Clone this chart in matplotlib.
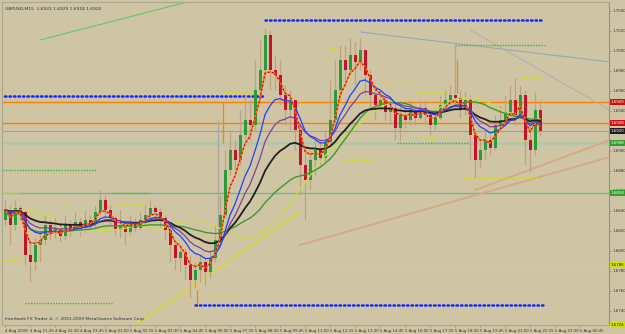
import matplotlib
matplotlib.use("Agg")
import matplotlib.pyplot as plt
import matplotlib.transforms as mtrans
import numpy as np
import pandas as pd

# candle data, GBPUSD M15 (open of each bar = previous close)
first_open = 1.6831
closes = [1.6841, 1.6826, 1.6843, 1.6839, 1.6796, 1.6789, 1.6806, 1.6811, 1.6826, 1.6819,
          1.6823, 1.6815, 1.6826, 1.6821, 1.6829, 1.6823, 1.6831, 1.6827, 1.6839, 1.6851,
          1.6841, 1.6833, 1.6821, 1.6826, 1.6819, 1.6829, 1.6823, 1.6831, 1.6836, 1.6843,
          1.6839, 1.6833, 1.6821, 1.6806, 1.6793, 1.6799, 1.6786, 1.6771, 1.6781, 1.6789,
          1.6779, 1.6793, 1.6811, 1.6836, 1.6881, 1.6901, 1.6891, 1.6916, 1.6931, 1.6926,
          1.6961, 1.6981, 1.7016, 1.6981, 1.6976, 1.6956, 1.6941, 1.6951, 1.6921, 1.6886,
          1.6871, 1.6891, 1.6901, 1.6893, 1.6909, 1.6931, 1.6961, 1.6991, 1.6981, 1.6996,
          1.6989, 1.7001, 1.6976, 1.6956, 1.6946, 1.6951, 1.6939, 1.6943, 1.6923, 1.6936,
          1.6931, 1.6941, 1.6933, 1.6943, 1.6936, 1.6926, 1.6933, 1.6946, 1.6951, 1.6956,
          1.6953, 1.6941, 1.6951, 1.6916, 1.6891, 1.6901, 1.6911, 1.6903, 1.6926, 1.6931,
          1.6939, 1.6951, 1.6936, 1.6956, 1.6911, 1.6901, 1.6941, 1.6920]
highs = [1.6851, 1.6846, 1.6851, 1.6846, 1.6841, 1.6811, 1.6813, 1.6821, 1.6836, 1.6831,
         1.6833, 1.6829, 1.6836, 1.6831, 1.6839, 1.6833, 1.6841, 1.6836, 1.6846, 1.6861,
         1.6856, 1.6846, 1.6836, 1.6841, 1.6831, 1.6836, 1.6833, 1.6839, 1.6846, 1.6851,
         1.6846, 1.6843, 1.6836, 1.6826, 1.6811, 1.6806, 1.6803, 1.6796, 1.6789, 1.6796,
         1.6793, 1.6801, 1.6826, 1.6856, 1.6901, 1.6921, 1.6911, 1.6941, 1.6956, 1.6951,
         1.6991, 1.7011, 1.7023, 1.7021, 1.6996, 1.6991, 1.6966, 1.6961, 1.6951, 1.6926,
         1.6901, 1.6901, 1.6911, 1.6911, 1.6921, 1.6971, 1.6991, 1.7006, 1.7006, 1.7013,
         1.7009, 1.7013, 1.7001, 1.6981, 1.6966, 1.6961, 1.6956, 1.6953, 1.6951, 1.6946,
         1.6943, 1.6951, 1.6946, 1.6951, 1.6951, 1.6941, 1.6943, 1.6956, 1.6961, 1.6966,
         1.7006, 1.6961, 1.6959, 1.6956, 1.6921, 1.6911, 1.6921, 1.6916, 1.6936, 1.6946,
         1.6956, 1.6966, 1.6973, 1.6966, 1.6961, 1.6933, 1.6959, 1.6951]
lows = [1.6826, 1.6806, 1.6821, 1.6831, 1.6786, 1.6769, 1.6781, 1.6789, 1.6806, 1.6811,
        1.6813, 1.6809, 1.6811, 1.6815, 1.6819, 1.6815, 1.6819, 1.6821, 1.6823, 1.6836,
        1.6833, 1.6826, 1.6816, 1.6813, 1.6806, 1.6816, 1.6819, 1.6821, 1.6826, 1.6831,
        1.6829, 1.6823, 1.6811, 1.6789, 1.6781, 1.6779, 1.6771, 1.6753, 1.6763, 1.6769,
        1.6766, 1.6773, 1.6789, 1.6806, 1.6833, 1.6876, 1.6881, 1.6886, 1.6911, 1.6911,
        1.6921, 1.6951, 1.6971, 1.6961, 1.6961, 1.6946, 1.6926, 1.6921, 1.6901, 1.6856,
        1.6831, 1.6861, 1.6876, 1.6886, 1.6889, 1.6906, 1.6926, 1.6951, 1.6966, 1.6976,
        1.6966, 1.6981, 1.6956, 1.6941, 1.6931, 1.6941, 1.6931, 1.6926, 1.6911, 1.6911,
        1.6923, 1.6926, 1.6926, 1.6931, 1.6926, 1.6916, 1.6921, 1.6931, 1.6941, 1.6946,
        1.6946, 1.6933, 1.6936, 1.6891, 1.6873, 1.6883, 1.6891, 1.6896, 1.6901, 1.6921,
        1.6926, 1.6936, 1.6926, 1.6931, 1.6886, 1.6879, 1.6896, 1.6915]

# price axis and time axis labels
price_ticks = [1.7040, 1.7020, 1.7000, 1.6980, 1.6960, 1.6940, 1.6920, 1.6900,
               1.6880, 1.6860, 1.6840, 1.6820, 1.6800, 1.6780, 1.6760, 1.6740]
time_ticks = list(range(0, 120, 5))
time_labels = ["4 Aug 2009", "4 Aug 21:15", "4 Aug 22:30", "4 Aug 23:45", "5 Aug 01:00",
               "5 Aug 02:15", "5 Aug 03:30", "5 Aug 04:45", "5 Aug 06:00", "5 Aug 07:15",
               "5 Aug 08:30", "5 Aug 09:45", "5 Aug 11:00", "5 Aug 12:15", "5 Aug 13:30",
               "5 Aug 14:45", "5 Aug 16:00", "5 Aug 17:15", "5 Aug 18:30", "5 Aug 19:45",
               "5 Aug 21:00", "5 Aug 22:15", "5 Aug 23:30", "6 Aug 00:45"]

# full-width levels: price, line colour, line width, label box colour, label text colour
levels = [1.6949, 1.6928, 1.6920, 1.6908, 1.6858, 1.6786, 1.6726]
level_line = ["#ff7f00", "#ff7f00", "#a0a098", "#b4c4ac", "#70b890", "#e0e020", None]
level_width = [1.0, 1.0, 0.8, 1.8, 1.0, 0.6, 0]
level_box = ["#d01010", "#d01010", "#202020", "#30a030", "#30a030", "#d0e000", "#d0e000"]
level_txt = ["#ffffff", "#ffffff", "#ffffff", "#ffffff", "#ffffff", "#202020", "#202020"]

# blue dotted support / resistance: price, start bar, end bar
blue_levels = [(1.7031, 52.0, 107.2), (1.6955, -1.0, 51.6), (1.6746, 38.0, 107.6)]
# green dotted segments
green_segs = [(1.6881, -1.0, 18.4), (1.6858, 21.6, 29.0), (1.6748, 4.0, 21.4),
              (1.6908, 78.4, 93.0), (1.7006, 90.0, 108.0)]
# yellow short pivot segments
yellow_segs = [(1.6959, 43.6, 51.0), (1.6946, 57.6, 61.0), (1.7003, 64.6, 67.6),
               (1.7026, 68.0, 69.6), (1.6894, 55.6, 58.4), (1.6891, 67.6, 73.6),
               (1.6968, 75.0, 81.6), (1.6959, 82.4, 88.4), (1.6973, 103.0, 107.4),
               (1.6913, 83.6, 86.4), (1.6910, 102.4, 106.4), (1.6873, 91.6, 107.0),
               (1.6858, -1.0, 3.0), (1.6846, 11.0, 13.0), (1.6847, 22.4, 28.4),
               (1.6791, -1.0, 3.0), (1.6754, 41.0, 47.0), (1.6814, 38.0, 45.0)]
# trend lines: (bar0, price0, bar1, price1, colour, width)
trend_lines = [(7.0, 1.7011, 38.0, 1.7051, "#6cc46c", 0.8),
               (71.0, 1.7019, 121.0, 1.6989, "#98a8b0", 0.8),
               (93.0, 1.7021, 121.0, 1.6941, "#b0b0b0", 0.8),
               (59.0, 1.6806, 121.0, 1.6894, "#d4a88a", 1.4),
               (94.0, 1.6861, 121.0, 1.6911, "#d4a88a", 1.4),
               (23.6, 1.6717, 59.0, 1.6839, "#e0e000", 0.8)]
# vertical markers: bar, price low, price high, colour
vlines = [(42.6, 1.6806, 1.6931, "#a8a8a0"), (43.6, 1.6908, 1.6948, "#ff8000"),
          (90.4, 1.6958, 1.6991, "#ff8000"), (38.4, 1.6746, 1.6761, "#ff8000")]

BG = "#cfc5a5"

opens = [first_open] + closes[:-1]
df = pd.DataFrame({"o": opens, "h": highs, "l": lows, "c": closes})
x = np.arange(len(df))

fig = plt.figure(figsize=(6.25, 3.34), dpi=100)
fig.patch.set_facecolor(BG)
ax = fig.add_axes([2 / 625, 9 / 334, 607 / 625, 323 / 334])
ax.set_facecolor(BG)
ax.set_xlim(-0.6, 120.8)
ax.set_ylim(1.6726, 1.7049)

# levels
for p, lc, lw in zip(levels, level_line, level_width):
    if lc:
        ax.axhline(p, color=lc, lw=lw, zorder=1)
for p, a, b in blue_levels:
    ax.plot([a, b], [p, p], color="#1428ff", lw=1.8, ls=(0, (0.6, 1.2)),
            dash_capstyle="round", zorder=2)
for p, a, b in green_segs:
    ax.plot([a, b], [p, p], color="#3cb83c", lw=1.0, ls=(0, (1, 1)), zorder=2)
for p, a, b in yellow_segs:
    ax.plot([a, b], [p, p], color="#d8e000", lw=1.0, ls=(0, (1, 1)), zorder=2)
for x0, y0, x1, y1, col, w in trend_lines:
    ax.plot([x0, x1], [y0, y1], color=col, lw=w, zorder=1)
for xv, lo, hi, col in vlines:
    ax.vlines(xv, lo, hi, color=col, lw=0.9, zorder=1)

# candles
up = df["c"] >= df["o"]
ax.vlines(x, df["l"], df["h"], color="#c0a080", lw=0.9, zorder=3)
body = (df["c"] - df["o"]).where((df["c"] - df["o"]).abs() > 0.00005, 0.00006)
ax.bar(x[up], body[up], bottom=df["o"][up], width=0.6, color="#2c9a38", zorder=4)
ax.bar(x[~up], body[~up], bottom=df["o"][~up], width=0.6, color="#c81028", zorder=4)

# moving averages
ma_fast = df["c"].ewm(span=4, adjust=False).mean()
ma_blue = df["c"].ewm(span=9, adjust=False).mean()
ma_purple = df["c"].ewm(span=14, adjust=False).mean()
ma_black = df["c"].ewm(span=24, adjust=False).mean()
ma_green = df["c"].rolling(30, min_periods=1).mean()
ma_yellow = df["c"].rolling(22, min_periods=1).mean().shift(6).bfill()
ax.plot(x, ma_yellow, color="#c8e040", lw=0.9, zorder=5)
ax.plot(x, ma_green, color="#3a9a30", lw=1.0, zorder=5)
ax.plot(x, ma_black, color="#202020", lw=1.3, zorder=5)
ax.plot(x, ma_purple, color="#8040a0", lw=0.9, zorder=5)
ax.plot(x, ma_blue, color="#2040ff", lw=0.9, zorder=5)
ax.plot(x, ma_fast, color="#ff7010", lw=1.0, zorder=6)
ax.plot(x, ma_fast, color="#d00000", lw=1.0, ls=(0, (1, 2)), zorder=6)

# axes look
for s in ["top", "left", "bottom"]:
    ax.spines[s].set_color("#a8a890")
ax.spines["right"].set_color("#8890a8")
ax.yaxis.tick_right()
ax.set_yticks(price_ticks)
ax.set_yticklabels([f"{p:.4f}" for p in price_ticks])
ax.tick_params(axis="y", labelsize=2.9, colors="#8890a8", labelcolor="#303040",
               length=1.5, width=0.6, pad=0.8)
ax.set_xticks(time_ticks)
ax.set_xticklabels(time_labels, ha="left")
ax.tick_params(axis="x", labelsize=2.8, colors="#8890a8", labelcolor="#303040",
               length=1.5, width=0.6, pad=1.5)

# price boxes on the right scale
tr = mtrans.blended_transform_factory(ax.transAxes, ax.transData)
for p, bc, tc in zip(levels, level_box, level_txt):
    ax.text(1.003, p, f"{p:.4f}", transform=tr, fontsize=2.9, color=tc,
            va="center", ha="left", clip_on=False, zorder=10,
            bbox=dict(boxstyle="square,pad=0.2", fc=bc, ec="none"))

ax.text(0.005, 0.985, "GBPUSD,M15  1.6922 1.6929 1.6918 1.6920", transform=ax.transAxes,
        fontsize=3.2, color="#303040", va="top", ha="left")
ax.text(0.005, 0.012, "Interbank FX Trader 4, \u00a9 2001-2009 MetaQuotes Software Corp.",
        transform=ax.transAxes, fontsize=3.2, color="#303040", va="bottom", ha="left")

fig.savefig("out.png", dpi=100, facecolor=BG)
